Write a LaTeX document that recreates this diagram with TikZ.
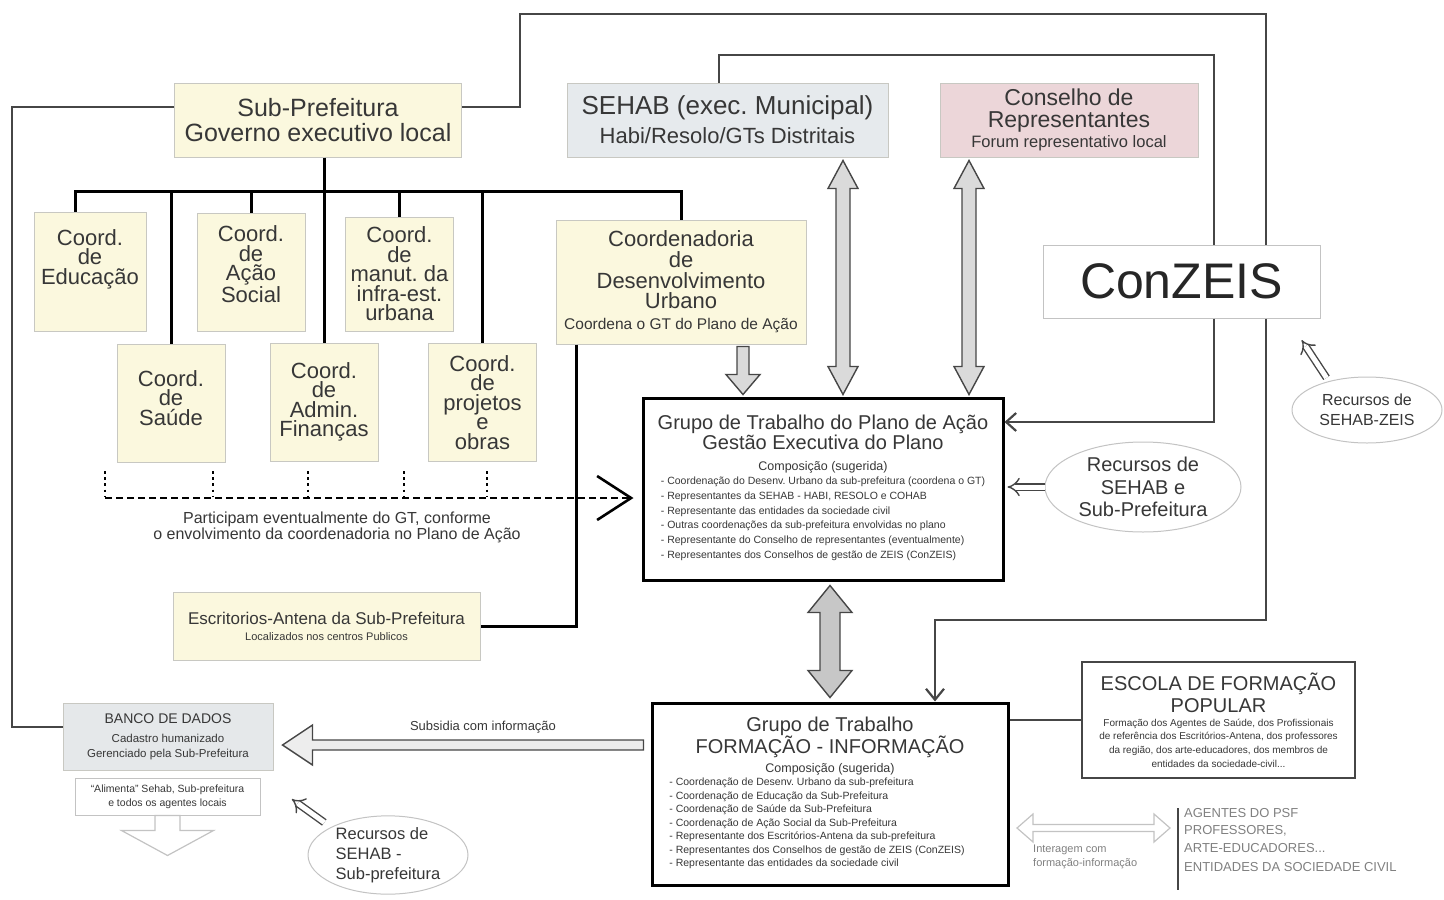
\documentclass[tikz,border=0pt]{standalone}
\usepackage{fontspec}
\setmainfont{Liberation Sans}
\usepackage{tikz}
\usetikzlibrary{arrows,arrows.meta,shapes,calc}
\frenchspacing
\definecolor{boxyellow}{RGB}{251,248,222}
\definecolor{boxgray}{RGB}{200,200,194}
\definecolor{sehabgray}{RGB}{230,234,237}
\definecolor{conspink}{RGB}{236,214,217}
\definecolor{bancogray}{RGB}{229,232,234}
\definecolor{txtgray}{RGB}{55,55,55}
\definecolor{linegray}{RGB}{70,70,70}
\definecolor{arrowfill}{RGB}{218,218,218}
\definecolor{lightline}{RGB}{195,195,195}
\newcommand{\fsz}[2]{\fontsize{#1}{#2}\selectfont}
\tikzstyle{plainbox}=[draw=boxgray, line width=1pt, inner sep=0pt, align=flush center, text=txtgray]
\tikzstyle{yellowbox}=[plainbox, fill=boxyellow]
\tikzstyle{coordbox}=[yellowbox, minimum width=108pt, minimum height=118pt, text width=104pt, font=\fsz{22}{19.5}]
\tikzstyle{gtbox}=[draw=black, line width=3pt, fill=white, inner sep=0pt, align=flush center, text=txtgray]
\tikzstyle{treeline}=[line width=3pt, black, line join=miter]
\tikzstyle{linkline}=[line width=2.2pt, linegray, line join=miter]
\tikzstyle{blockarrow}=[draw=linegray, line width=1.4pt, fill=arrowfill, line join=miter]
\tikzstyle{ghostarrow}=[draw=lightline, line width=1.2pt, fill=white, line join=miter]
\tikzstyle{recurso}=[ellipse, draw=lightline, line width=1pt, fill=white, inner sep=0pt, align=center, text=txtgray]
\tikzstyle{recursoarrow}=[double=white, double distance=5pt, line width=1.4pt, linegray, -{Implies}]
\newcommand{\blockArrow}[6]{
	\coordinate (ZZh) at ($#3!#6!#2$);
	\draw[#1] ($#2!#4!90:#3$) -- ($(ZZh)!#4!-90:#2$) -- ($(ZZh)!#5!-90:#2$) -- #3 -- ($(ZZh)!#5!90:#2$) -- ($(ZZh)!#4!90:#2$) -- ($#2!#4!-90:#3$) -- cycle;
}
\newcommand{\doubleArrow}[6]{
	\coordinate (ZZa) at ($#2!#6!#3$);
	\coordinate (ZZb) at ($#3!#6!#2$);
	\draw[#1] #2 -- ($(ZZa)!#5!90:#3$) -- ($(ZZa)!#4!90:#3$) -- ($(ZZb)!#4!-90:#2$) -- ($(ZZb)!#5!-90:#2$) -- #3 -- ($(ZZb)!#5!90:#2$) -- ($(ZZb)!#4!90:#2$) -- ($(ZZa)!#4!-90:#3$) -- ($(ZZa)!#5!-90:#3$) -- cycle;
}

\begin{document}
\begin{tikzpicture}[x=1pt,y=-1pt]
	\useasboundingbox (0,0) rectangle (1444,900);
	\node[yellowbox, minimum width=287pt, minimum height=74pt, text width=280pt, font=\fsz{25}{25}] (subpref) at (318,120) {Sub-Prefeitura\\Governo executivo local};
	\node[plainbox, fill=sehabgray, minimum width=321pt, minimum height=74pt, text width=315pt] (sehab) at (727.5,120) {{\fsz{26}{26}SEHAB (exec. Municipal)\par}{\fsz{22}{29}Habi/Resolo/GTs Distritais\par}};
	\node[plainbox, fill=conspink, minimum width=258pt, minimum height=74pt, text width=252pt] (conselho) at (1069,120) {{\fsz{23}{22}Conselho de\\Representantes\par}{\fsz{16.5}{20}Forum representativo local\par}};
	\node[plainbox, draw=lightline, fill=white, minimum width=277pt, minimum height=73pt, font=\fsz{50}{50}, text=black!85] (conzeis) at (1181.5,281.5) {ConZEIS};
	\node[coordbox, minimum width=112pt, minimum height=119pt] (educ) at (90,271.5) {Coord.\\de\\Educação\\[10pt]\mbox{}};
	\node[coordbox] (acao) at (251,272) {Coord.\\de\\Ação\\Social\\[-4pt]\mbox{}};
	\node[coordbox, minimum height=114pt] (manut) at (399.5,274) {Coord.\\de\\manut. da\\infra-est.\\urbana};
	\node[coordbox] (saude) at (171,403.5) {Coord.\\de\\Saúde\\[-8pt]\mbox{}};
	\node[coordbox] (admin) at (324,402) {Coord.\\de\\Admin.\\Finanças};
	\node[coordbox] (proj) at (482.5,402.5) {Coord.\\de\\projetos\\e\\obras};
	\node[yellowbox, minimum width=250pt, minimum height=124pt, text width=244pt] (coorddu) at (681,282) {{\fsz{22}{20.7}Coordenadoria\\de\\Desenvolvimento\\Urbano\par}{\fsz{15.5}{21}Coordena o GT do Plano de Ação\par}};
	\node[gtbox, minimum width=360pt, minimum height=182pt, text width=344pt] (gtp) at (823,489) {{\fsz{20}{18}Grupo de Trabalho do Plano de Ação\\Gestão Executiva do Plano\par}{\fsz{12.5}{21}Composição (sugerida)\par}{\fsz{10.5}{14.7}\begin{tabular}{@{}l@{}}- Coordenação do Desenv. Urbano da sub-prefeitura (coordena o GT)\\- Representantes da SEHAB - HABI, RESOLO e COHAB\\- Representante das entidades da sociedade civil\\- Outras coordenações da sub-prefeitura envolvidas no plano\\- Representante do Conselho de representantes (eventualmente)\\- Representantes dos Conselhos de gestão de ZEIS (ConZEIS)\end{tabular}\par}};
	\node[gtbox, minimum width=356pt, minimum height=182pt, text width=340pt] (gtf) at (830,794) {{\fsz{20}{22}Grupo de Trabalho\\FORMAÇÃO - INFORMAÇÃO\par}{\fsz{12.5}{19}Composição (sugerida)\par}{\fsz{10.5}{13.5}\hspace*{-26pt}\begin{tabular}{@{}l@{}}- Coordenação de Desenv. Urbano da sub-prefeitura\\- Coordenação de Educação da Sub-Prefeitura\\- Coordenação de Saúde da Sub-Prefeitura\\- Coordenação de Ação Social da Sub-Prefeitura\\- Representante dos Escritórios-Antena da sub-prefeitura\\- Representantes dos Conselhos de gestão de ZEIS (ConZEIS)\\- Representante das entidades da sociedade civil\end{tabular}\par}};
	\node[plainbox, draw=linegray, line width=1.2pt, fill=white, minimum width=273pt, minimum height=116pt, text width=268pt] (escola) at (1218.5,720) {{\fsz{20}{22}ESCOLA DE FORMAÇÃO\\POPULAR\par}{\fsz{10}{13.7}Formação dos Agentes de Saúde, dos Profissionais\\de referência dos Escritórios-Antena, dos professores\\da região, dos arte-educadores, dos membros de\\entidades da sociedade-civil...\par}};
	\node[plainbox, fill=bancogray, minimum width=210pt, minimum height=67pt, text width=206pt] (banco) at (168,736.5) {{\fsz{14}{14}BANCO DE DADOS\par}{\fsz{11.5}{19}Cadastro humanizado\par}{\fsz{11.5}{15}Gerenciado pela Sub-Prefeitura\par}};
	\node[plainbox, draw=lightline, fill=white, minimum width=185pt, minimum height=37pt, text width=180pt, font=\fsz{10.5}{14}] (alim) at (167.5,796.5) {``Alimenta'' Sehab, Sub-prefeitura\\e todos os agentes locais};
	\node[yellowbox, minimum width=307pt, minimum height=68pt, text width=300pt] (escrit) at (326.5,626) {{\fsz{17}{17}Escritorios-Antena da Sub-Prefeitura\par}{\fsz{11}{16}Localizados nos centros Publicos\par}};
	\node[text=txtgray, font=\fsz{16}{13}, align=center, inner sep=0pt] (particip) at (337,527) {Participam eventualmente do GT, conforme\\o envolvimento da coordenadoria no Plano de Ação};
	\node[text=txtgray, font=\fsz{13}{13}] (subsidia) at (483,727) {Subsidia com informação};
	\node[text=gray, font=\fsz{11}{14}, align=left, anchor=west, inner sep=0pt] (interag) at (1033,857) {Interagem com\\formação-informação};
	\node[text=gray, font=\fsz{13}{17.5}, align=left, anchor=north west, inner sep=0pt] (agentes) at (1184,808) {AGENTES DO PSF\\PROFESSORES,\\ARTE-EDUCADORES...\\[2pt]ENTIDADES DA SOCIEDADE CIVIL};
	\node[recurso, minimum width=196pt, minimum height=90pt, font=\fsz{20}{22.5}] (rec1) at (1143,487) {Recursos de\\SEHAB e\\Sub-Prefeitura};
	\node[recurso, minimum width=150pt, minimum height=66pt, font=\fsz{16}{20}] (rec2) at (1367,410) {Recursos de\\SEHAB-ZEIS};
	\node[recurso, minimum width=160pt, minimum height=76pt, font=\fsz{16.5}{20}, align=left] (rec3) at (388,855) {Recursos de\\SEHAB -\\Sub-prefeitura};

	\coordinate (edtop) at ([xshift=-15pt]educ.north);
	\draw[treeline] (edtop) -- (edtop |- 0,191) -- (coorddu.north |- 0,191) -- (coorddu.north);
	\draw[treeline] (subpref.south -| admin.north) -- (admin.north);
	\foreach \n in {saude,acao,manut,proj}
		\draw[treeline] (\n.north |- 0,191) -- (\n.north);
	\coordinate (cdleft) at ([xshift=21pt]coorddu.south west);
	\draw[treeline] (cdleft) |- (escrit.east);

	\draw[linkline] (subpref.west |- 0,107) -| (12,727) -- (banco.west |- 12,727);
	\draw[linkline] (subpref.east |- 0,107) -| (520,14) -| (1266,0 |- conzeis.north);
	\draw[linkline, -{Straight Barb[length=11pt,width=18pt]}] (1266,0 |- conzeis.south) |- (935,620) -- (935,0 |- gtf.north);
	\draw[linkline] (719,0 |- sehab.north) |- (1214,55) -- (1214,0 |- conzeis.north);
	\draw[linkline, -{Straight Barb[length=10pt,width=18pt]}] (1214,0 |- conzeis.south) |- (gtp.east |- 0,422);
	\draw[line width=1.5pt, linegray] (gtf.east |- escola.west) -- (escola.west);
	\draw[line width=1.8pt, linegray] ($(agentes.north west)+(-6,0)$) -- ($(agentes.south west)+(-6,18)$);

	\coordinate (partstart) at (105,498);
	\foreach \x in {105,213,308,404,487}
		\draw[line width=2.6pt, dash pattern=on 2.6pt off 3.6pt] (\x,471) -- (\x,496);
	\draw[line width=2.6pt, dash pattern=on 7pt off 4pt, shorten >=8pt, -{Straight Barb[length=34pt,width=44pt]}] (partstart) -- (gtp.west |- partstart);

	\coordinate (cda) at ($(743,0 |- coorddu.south)+(0,2)$);
	\coordinate (cdb) at ($(743,0 |- gtp.north)+(0,-2)$);
	\blockArrow{blockarrow}{(cda)}{(cdb)}{6pt}{17pt}{20pt}
	\coordinate (sha) at ($(843,0 |- sehab.south)+(0,3)$);
	\coordinate (shb) at ($(843,0 |- gtp.north)+(0,-2)$);
	\doubleArrow{blockarrow}{(sha)}{(shb)}{7pt}{15pt}{28pt}
	\coordinate (csa) at ($(969,0 |- conselho.south)+(0,3)$);
	\coordinate (csb) at ($(969,0 |- gtp.north)+(0,-2)$);
	\doubleArrow{blockarrow}{(csa)}{(csb)}{7pt}{15pt}{28pt}
	\coordinate (gga) at ($(830,0 |- gtp.south)+(0,4)$);
	\coordinate (ggb) at ($(830,0 |- gtf.north)+(0,-4)$);
	\doubleArrow{blockarrow, fill=black!22}{(gga)}{(ggb)}{10pt}{22pt}{27pt}
	\coordinate (sba) at ($(gtf.west |- 0,745)+(-7,0)$);
	\coordinate (sbb) at ($(banco.east |- 0,745)+(9,0)$);
	\blockArrow{blockarrow, fill=black!7}{(sba)}{(sbb)}{5pt}{20pt}{30pt}
	\coordinate (ala) at (alim.south);
	\coordinate (alb) at ($(alim.south)+(0,40)$);
	\blockArrow{ghostarrow}{(ala)}{(alb)}{12.5pt}{46pt}{25pt}
	\coordinate (ina) at (1017,828);
	\coordinate (inb) at (1170,828);
	\doubleArrow{ghostarrow}{(ina)}{(inb)}{3.5pt}{14pt}{16pt}

	\draw[recursoarrow, shorten >=3pt] (rec1.west) -- (gtp.east |- rec1.west);
	\draw[recursoarrow, shorten <=4pt] (rec2.143) -- ++(-27,-41);
	\draw[recursoarrow, shorten <=8pt] (rec3.154) -- ++(-39,-28);
\end{tikzpicture}
\end{document}
